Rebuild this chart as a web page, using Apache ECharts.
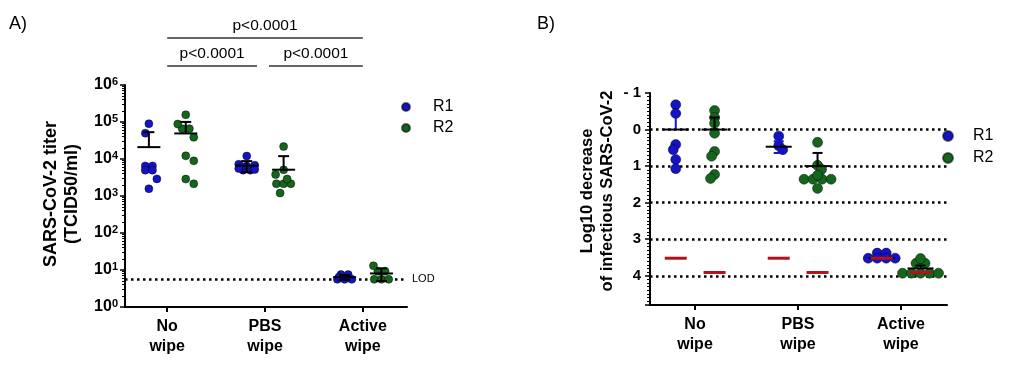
<!DOCTYPE html>
<html><head><meta charset="utf-8">
<script src="https://cdn.jsdelivr.net/npm/echarts@6/dist/echarts.min.js"></script>
<style>html,body{margin:0;padding:0;background:#fff}#c{width:1024px;height:365px}</style>
</head><body><div id="c"></div>
<script>
// ---------------- data ----------------
const categories = ['No\nwipe', 'PBS\nwipe', 'Active\nwipe'];
const seriesNames = ['R1', 'R2'];

// Panel A: SARS-CoV-2 titer (TCID50/ml), per category
const titerR1 = [
  [90000, 50000, 6500, 6500, 5000, 5000, 2900, 1570],
  [12000, 7200, 6800, 6500, 6200, 5500, 5200, 5000, 5000],
  [7.5, 7.5, 6.5, 5.6, 5.6, 5.6]
];
const titerR2 = [
  [157000, 88000, 66000, 66000, 38600, 12200, 8900, 2870, 2140],
  [21700, 5100, 3800, 2870, 2140, 2140, 2140, 1200],
  [13, 9.3, 9.3, 5.6, 5.6, 5.6]
];
const lodTiter = 5.6;
const comparisons = [[1, 3], [1, 2], [2, 3]];
const compLevels = [2, 1, 1];
const compLabels = ['p<0.0001', 'p<0.0001', 'p<0.0001'];

// Panel B: log10 decrease of infectious SARS-CoV-2
const decR1 = [
  [-0.68, -0.44, 0.41, 0.55, 0.82, 1.07],
  [0.18, 0.44, 0.55],
  [3.38, 3.38, 3.52, 3.52, 3.52, 3.52]
];
const decR2 = [
  [-0.52, -0.33, -0.17, 0.1, 0.6, 0.73, 1.23, 1.34],
  [0.35, 0.98, 1.09, 1.25, 1.36, 1.36, 1.36, 1.36, 1.61],
  [3.53, 3.66, 3.66, 3.93, 3.93, 3.93, 3.93, 3.93]
];
const decMeanR1 = [0, 0.47, 3.52];
const decMeanR2 = [0, 1.0, 3.8];
const decErrTopR1 = [-0.44, 0.32, 3.47];
const decErrBotR1 = [null, 0.64, null];
const decErrTopR2 = [-0.33, 0.64, 3.72];
const decErrBotR2 = [null, null, null];
const decLodR1 = [3.52, 3.52, 3.52];
const decLodR2 = [3.91, 3.91, 3.91];
const decRefLines = [0, 1, 2, 3, 4];

// ---------------- styles / layout ----------------
const BLUE = '#1414c4', GREEN = '#15661c', RED = '#b3121a';
const FONT = 'Liberation Sans';
const gridA = {left: 125, top: 85, width: 282, height: 222};
const gridB = {left: 650, top: 93, width: 297, height: 212};
const axA = {min: 0.569, max: 3.451}, axB = {min: 0.563, max: 3.447};
const pxXA = gridA.width / (axA.max - axA.min), pxXB = gridB.width / (axB.max - axB.min);
const pxYA = gridA.height / 6, pxYB = gridB.height / 5.8;
const OFF = [-0.187, 0.19];

// dot-plot layout: equal values form centred rows, other points dodge within a band
function swarm(vals, center, pxX, toPx, d, T, maxS) {
  const pts = vals.map(v => ({v, py: toPx(v)})).sort((a, b) => a.py - b.py);
  const rows = [];
  pts.forEach(p => { const r = rows.find(r => r.v === p.v); if (r) r.items.push(p); else rows.push({v: p.v, items: [p]}); });
  const placed = [];
  rows.filter(r => r.items.length > 1).forEach(r => {
    const n = r.items.length;
    r.items.forEach((p, i) => { p.px = (i - (n - 1) / 2) * 0.9 * d; placed.push(p); });
  });
  rows.filter(r => r.items.length === 1).forEach(r => {
    const p = r.items[0];
    const cands = [0];
    for (let c = 0.5; c <= maxS; c += 0.5) cands.push(...(placed.length % 2 ? [-c, c] : [c, -c]));
    const minD = c => placed.reduce((m, q) => Math.min(m, Math.hypot(q.px - c, q.py - p.py)), Infinity);
    let chosen = cands.find(c => minD(c) >= T);
    if (chosen === undefined) {
      let best = -1;
      cands.forEach(c => { const m = minD(c); if (m > best + 0.01) { best = m; chosen = c; } });
    }
    p.px = chosen; placed.push(p);
  });
  return placed.map(p => [center + p.px / pxX, p.v]);
}
function meanSd(a) {
  const m = a.reduce((s, v) => s + v, 0) / a.length;
  const sd = Math.sqrt(a.reduce((s, v) => s + (v - m) * (v - m), 0) / (a.length - 1));
  return [m, sd];
}
function pointsA(arr, si) {
  const out = [];
  arr.forEach((vals, ci) => out.push(...swarm(vals, ci + 1 + OFF[si], pxXA, v => -Math.log10(v) * pxYA, 8, 10, 8)));
  return out;
}
function pointsB(arr, si) {
  const out = [];
  arr.forEach((vals, ci) => out.push(...swarm(vals, ci + 1 + OFF[si], pxXB, v => v * pxYB, 10, 5.5, 10)));
  return out;
}
const errA = [];
[titerR1, titerR2].forEach((arr, si) => arr.forEach((vals, ci) => {
  const [m, sd] = meanSd(vals);
  errA.push([ci + 1 + OFF[si], m, m + sd, m - sd > 0 ? m - sd : NaN, si]);
}));
const errB = [];
[[decMeanR1, decErrTopR1, decErrBotR1], [decMeanR2, decErrTopR2, decErrBotR2]].forEach((g, si) =>
  g[0].forEach((m, ci) => errB.push([ci + 1 + OFF[si], m, g[1][ci] == null ? NaN : g[1][ci], g[2][ci] == null ? NaN : g[2][ci], si])));
const lodB = [];
[decLodR1, decLodR2].forEach((arr, si) => arr.forEach((v, ci) => lodB.push([ci + 1 + OFF[si], v])));
const brackets = comparisons.map((c, i) => [c[0], c[1], compLevels[i], i]);

function errRender(w, cap, colors) {
  return function (params, api) {
    const x = api.value(0), m = api.value(1), hi = api.value(2), lo = api.value(3), si = api.value(4);
    const pm = api.coord([x, m]);
    const ch = [];
    const st = {stroke: colors[si], lineWidth: 2};
    [hi, lo].forEach(v => {
      if (v == null || isNaN(v)) return;
      const p = api.coord([x, v]);
      ch.push({type: 'line', shape: {x1: pm[0], y1: pm[1], x2: pm[0], y2: p[1]}, style: st});
      ch.push({type: 'line', shape: {x1: pm[0] - cap / 2, y1: p[1], x2: pm[0] + cap / 2, y2: p[1]}, style: st});
    });
    ch.push({type: 'line', shape: {x1: pm[0] - w / 2, y1: pm[1], x2: pm[0] + w / 2, y2: pm[1]}, style: {stroke: '#000', lineWidth: 2}});
    return {type: 'group', children: ch};
  };
}

const xLabel = {
  formatter: v => categories[Math.round(v) - 1] || '', fontSize: 16, fontWeight: 'bold', fontFamily: FONT,
  color: '#000', lineHeight: 20, margin: 10, customValues: [1, 2, 3]
};
const axLine = {onZero: false, lineStyle: {color: '#000', width: 2}};
const dotStyle = c => ({color: c, borderColor: 'rgba(0,0,0,0.55)', borderWidth: 0.8, opacity: 1});

const option = {
  animation: false,
  backgroundColor: '#fff',
  grid: [Object.assign({}, gridA), Object.assign({}, gridB)],
  xAxis: [
    {type: 'value', gridIndex: 0, min: axA.min, max: axA.max, splitLine: {show: false}, axisLine: axLine,
      axisTick: {customValues: [1, 2, 3], length: 5, lineStyle: {width: 2, color: '#000'}}, axisLabel: xLabel},
    {type: 'value', gridIndex: 1, min: axB.min, max: axB.max, splitLine: {show: false}, axisLine: axLine,
      axisTick: {customValues: [1, 2, 3], length: 5, lineStyle: {width: 2, color: '#000'}}, axisLabel: xLabel}
  ],
  yAxis: [
    {type: 'log', gridIndex: 0, logBase: 10, min: 1, max: 1e6, splitLine: {show: false}, axisLine: axLine,
      axisTick: {length: 5, lineStyle: {width: 1.5, color: '#000'}},
      minorTick: {show: true, splitNumber: 9, length: 3, lineStyle: {color: '#000', width: 1}},
      axisLabel: {
        margin: 7, color: '#000',
        formatter: v => '{b|10}{s|' + Math.round(Math.log10(v)) + '}',
        rich: {
          b: {fontSize: 16, fontWeight: 'bold', fontFamily: FONT, color: '#000', lineHeight: 18},
          s: {fontSize: 11, fontWeight: 'bold', fontFamily: FONT, color: '#000', verticalAlign: 'top', lineHeight: 11}
        }
      }},
    {type: 'value', gridIndex: 1, inverse: true, min: -1, max: 4.8, interval: 1, splitLine: {show: false}, axisLine: axLine,
      axisTick: {length: 5, lineStyle: {width: 1.5, color: '#000'}},
      minorTick: {show: true, splitNumber: 10, length: 3, lineStyle: {color: '#000', width: 1}},
      axisLabel: {margin: 9, showMaxLabel: false, fontSize: 15, fontWeight: 'bold', fontFamily: FONT, color: '#000',
        formatter: v => (v > 4.5 ? '' : (v < 0 ? '- ' + Math.abs(v) : String(v)))}}
  ],
  legend: [
    {data: seriesNames, left: 401, top: 99, orient: 'vertical', icon: 'circle', itemWidth: 44, itemHeight: 8, itemGap: 5,
      padding: 0, selectedMode: false, textStyle: {fontSize: 16, fontFamily: FONT, color: '#000', lineHeight: 16}},
    {data: seriesNames, left: 942, top: 128, orient: 'vertical', icon: 'circle', itemWidth: 40, itemHeight: 10, itemGap: 6,
      padding: 0, selectedMode: false, textStyle: {fontSize: 16, fontFamily: FONT, color: '#000', lineHeight: 16}}
  ],
  graphic: [
    {type: 'text', left: 9, top: 15, style: {text: 'A)', font: '18px ' + FONT, fill: '#000'}},
    {type: 'text', left: 537, top: 15, style: {text: 'B)', font: '18px ' + FONT, fill: '#000'}},
    {type: 'text', x: 62, y: 194, rotation: Math.PI / 2,
      style: {text: 'SARS-CoV-2 titer\n(TCID50/ml)', font: 'bold 18px ' + FONT, fill: '#000', align: 'center', verticalAlign: 'middle', lineHeight: 21}},
    {type: 'text', x: 597, y: 191, rotation: Math.PI / 2,
      style: {text: 'Log10 decrease\nof infectious SARS-CoV-2', font: 'bold 16.5px ' + FONT, fill: '#000', align: 'center', verticalAlign: 'middle', lineHeight: 20}}
  ],
  series: [
    {name: 'R1', type: 'scatter', xAxisIndex: 0, yAxisIndex: 0, symbolSize: 8, itemStyle: dotStyle(BLUE), data: pointsA(titerR1, 0), z: 3,
      markLine: {silent: true, symbol: ['none', 'none'], z: 1,
        lineStyle: {type: [2.5, 3.5], color: '#000', width: 2.5},
        label: {show: true, position: 'end', formatter: 'LOD', fontSize: 11, fontFamily: FONT, color: '#000', distance: 5},
        data: [{yAxis: lodTiter}]}},
    {name: 'R2', type: 'scatter', xAxisIndex: 0, yAxisIndex: 0, symbolSize: 8, itemStyle: dotStyle(GREEN), data: pointsA(titerR2, 1), z: 3},
    {name: 'errA', type: 'custom', xAxisIndex: 0, yAxisIndex: 0, z: 4, data: errA,
      encode: {x: 0, y: 1}, renderItem: errRender(23, 11, ['#000', '#000'])},
    {name: 'brackets', type: 'custom', xAxisIndex: 0, yAxisIndex: 0, z: 4, data: brackets, clip: false,
      encode: {x: [0, 1]},
      renderItem: function (params, api) {
        const a = api.value(0), b = api.value(1), lvl = api.value(2), i = api.value(3);
        const top = api.coord([a, 1e6])[1];
        const y = top - (lvl === 1 ? 19 : 47);
        let x1 = api.coord([a, 1e6])[0], x2 = api.coord([b, 1e6])[0];
        if (lvl === 1) { if (b === 2) x2 -= 8; if (a === 2) x1 += 4; }
        return {type: 'group', children: [
          {type: 'line', shape: {x1: x1, y1: y, x2: x2, y2: y}, style: {stroke: '#333', lineWidth: 1.3}},
          {type: 'text', x: (x1 + x2) / 2, y: y - 12, style: {text: compLabels[i], font: '15.5px ' + FONT, fill: '#000', align: 'center', verticalAlign: 'middle'}}
        ]};
      }},
    {name: 'R1', type: 'scatter', xAxisIndex: 1, yAxisIndex: 1, symbolSize: 10, itemStyle: dotStyle(BLUE), data: pointsB(decR1, 0), z: 3,
      markLine: {silent: true, symbol: ['none', 'none'], z: 1, label: {show: false},
        lineStyle: {type: [2.5, 3.5], color: '#000', width: 2.5},
        data: decRefLines.map(v => ({yAxis: v}))}},
    {name: 'R2', type: 'scatter', xAxisIndex: 1, yAxisIndex: 1, symbolSize: 10, itemStyle: dotStyle(GREEN), data: pointsB(decR2, 1), z: 3},
    {name: 'errB', type: 'custom', xAxisIndex: 1, yAxisIndex: 1, z: 4, data: errB,
      encode: {x: 0, y: 1}, renderItem: errRender(26, 10, [BLUE, '#000'])},
    {name: 'lodB', type: 'custom', xAxisIndex: 1, yAxisIndex: 1, z: 5, data: lodB,
      encode: {x: 0, y: 1},
      renderItem: function (params, api) {
        const p = api.coord([api.value(0), api.value(1)]);
        return {type: 'line', shape: {x1: p[0] - 11, y1: p[1], x2: p[0] + 11, y2: p[1]}, style: {stroke: RED, lineWidth: 3}};
      }}
  ]
};
const chart = echarts.init(document.getElementById('c'), null, {renderer: 'canvas'});
chart.setOption(option);
</script>
</body></html>
